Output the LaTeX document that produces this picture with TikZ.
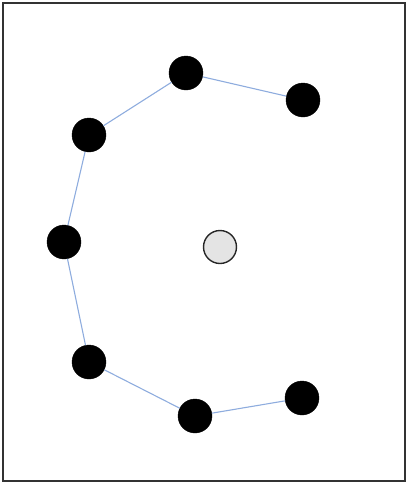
\documentclass[tikz,border=0pt]{standalone}
\usepackage{tikz}
\definecolor{cEdge}{RGB}{142,172,222}
\definecolor{cHub}{RGB}{228,228,228}
\tikzset{
	dot/.style ={circle, draw=black, fill=black, minimum size=34pt, inner sep=0pt},
	hub/.style ={circle, draw=black!85, line width=1.4pt, fill=cHub, minimum size=33pt, inner sep=0pt},
	link/.style={cEdge, line width=1.1pt},
}
\begin{document}
\begin{tikzpicture}[x=1pt, y=-1pt]
	\useasboundingbox (0,0) rectangle (408,483);
	\draw[black!80, line width=1.6pt] (3,3) rectangle (405,481);
	% arc of dots
	\node[dot] (d1) at (303,100) {};
	\node[dot] (d2) at (186,73) {};
	\node[dot] (d3) at (89,135) {};
	\node[dot] (d4) at (64,242) {};
	\node[dot] (d5) at (89,362) {};
	\node[dot] (d6) at (195,416) {};
	\node[dot] (d7) at (302,398) {};
	\node[hub] (c) at (220,247) {};
	\draw[link] (d1) -- (d2) -- (d3) -- (d4) -- (d5) -- (d6) -- (d7);
\end{tikzpicture}
\end{document}
